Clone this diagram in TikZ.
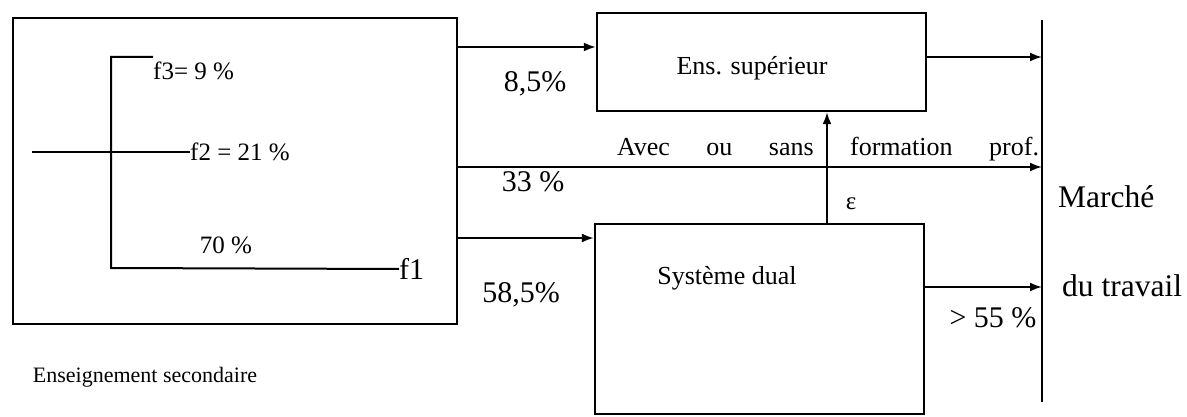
\documentclass[tikz,border=0pt]{standalone}
\usepackage{fontspec}
\setmainfont{Liberation Serif}
\usetikzlibrary{arrows.meta}
\newcommand\fsz[1]{\fontsize{#1}{#1}\selectfont}

\begin{document}
\begin{tikzpicture}[x=1pt,y=-1pt,
  box/.style={draw, line width=2.4pt, inner sep=0, rectangle},
  txt/.style={inner sep=0},
  big/.style={txt, font=\fsz{30}},
  arr/.style={line width=2pt, -{Latex[length=12pt,width=9pt]}},
  tree/.style={line width=2pt}]
\useasboundingbox (0,0) rectangle (1187,417);

% boxes
\node[box, minimum width=444pt, minimum height=306pt] (sec) at (235,171) {};
\node[box, minimum width=329pt, minimum height=98pt] (ens) at (761.5,62) {};
\node[txt, font=\fsz{26}] (enslbl) at (752,68) {Ens. supérieur};
\node[box, minimum width=329pt, minimum height=190pt] (dual) at (759.5,319) {};
\node[txt, font=\fsz{26}] (duallbl) at (727,278) {Système dual};

% labour market line
\coordinate (mtop) at (1042,20);
\coordinate (mbot) at (1042,402);
\draw[line width=2pt] (mtop) -- (mbot);
\node[txt, font=\fsz{31.5}, anchor=west] (marche) at (1058,197) {Marché};
\node[txt, font=\fsz{31.5}, anchor=west] (travail) at (1062,286) {du travail};

% branching inside secondary education
\coordinate (root) at (32,152);
\coordinate (t3) at (111,57);
\coordinate (t1) at (111,268);
\node[txt, font=\fsz{25}, anchor=base west] (f3) at (153,80) {f3= 9 \%};
\node[txt, font=\fsz{25}, anchor=west] (f2) at (190,152) {f2 = 21 \%};
\node[txt, font=\fsz{30}, anchor=west] (f1) at (399,269) {f1};
\node[txt, font=\fsz{25}] (p70) at (226,245) {70 \%};
\draw[tree] (t3 -| f3.west) -- (t3) -- (t1) -- (f1.west);
\draw[tree] (root) -- (f2.west);

\node[txt, font=\fsz{22}] (secl) at (145,377) {Enseignement secondaire};

% flows
\draw[arr] ([yshift=15pt]ens.west -| sec.east) -- ([yshift=15pt]ens.west);
\node[big] (p85) at (535,84) {8,5\%};

\draw[arr] ([yshift=4pt]sec.east) -- ([yshift=4pt]sec.east -| mtop);
\node[big] (p33) at (533,182) {33 \%};
\node[txt, font=\fsz{26}] (avec) at (828,149) {\hbox to 422pt{Avec\hfill ou\hfill sans\hfill formation\hfill prof.}};

\draw[arr] ([yshift=-67pt]sec.east) -- ([yshift=-67pt]sec.east -| dual.west);
\node[big] (p585) at (521,295) {58,5\%};

\draw[arr] ([xshift=67.5pt]dual.north) -- ([xshift=67.5pt]dual.north |- ens.south);
\node[txt, font=\fsz{25}] (eps) at (851,204) {ε};

\draw[arr] ([yshift=5pt]ens.east) -- ([yshift=5pt]ens.east -| mtop);
\draw[arr] ([yshift=32pt]dual.east) -- ([yshift=32pt]dual.east -| mtop);
\node[big] (p55) at (993,318) {> 55 \%};
\end{tikzpicture}
\end{document}
